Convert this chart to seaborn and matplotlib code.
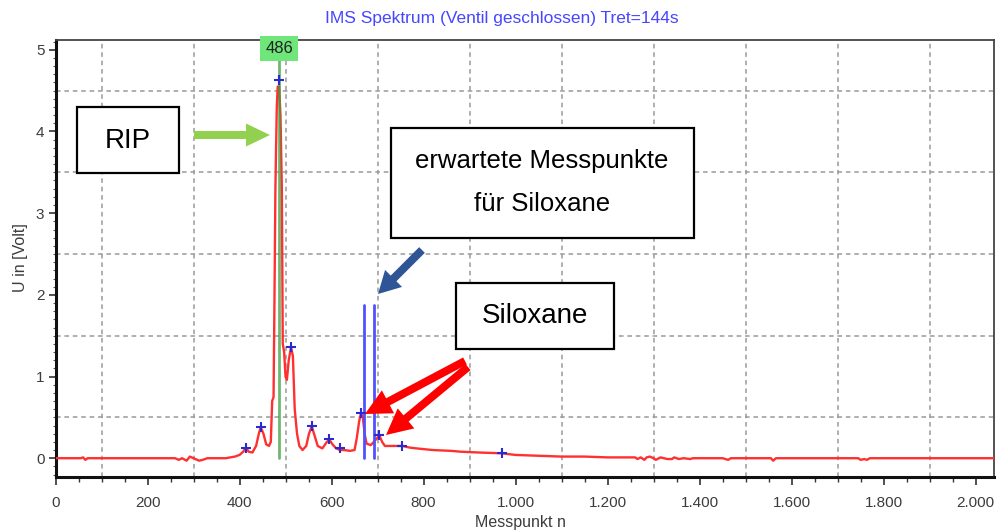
import numpy as np
import pandas as pd
import matplotlib
matplotlib.use("Agg")
import matplotlib.pyplot as plt
import seaborn as sns
from matplotlib.patches import Rectangle, Polygon
from matplotlib.transforms import IdentityTransform
from matplotlib.ticker import FuncFormatter, MultipleLocator

# ---------------- data ----------------
messpunkt = [0, 55, 60, 65, 70, 260, 268, 275, 285, 292, 300, 312, 320, 330, 370,
             390, 400, 408, 414, 420, 428, 436, 442, 446, 452, 458, 464, 468, 471,
             474, 476, 478, 481, 483, 486, 489, 492, 494, 497, 500, 503, 507, 512,
             516, 520, 525, 530, 537, 545, 551, 557, 563, 570, 580, 590, 595, 602,
             610, 619, 628, 640, 650, 655, 660, 664, 668, 672, 676, 685, 692, 698,
             704, 710, 716, 735, 754, 770, 785, 820, 860, 880, 920, 970, 1000, 1050,
             1100, 1150, 1200, 1260, 1265, 1272, 1280, 1285, 1292, 1300, 1305, 1315,
             1330, 1340, 1345, 1355, 1365, 1380, 1385, 1450, 1462, 1468, 1475, 1555,
             1560, 1566, 1745, 1750, 1758, 1764, 1770, 2040]
spannung = [0.0, 0.0, 0.01, -0.02, 0.0, 0.0, -0.02, 0.0, -0.03, 0.02, 0.0, -0.03, -0.02,
            0.0, 0.0, 0.02, 0.04, 0.08, 0.13, 0.08, 0.07, 0.15, 0.30, 0.38, 0.30, 0.17,
            0.15, 0.20, 0.70, 0.75, 1.97, 3.30, 4.30, 4.55, 4.55, 4.20, 3.30, 1.40,
            1.30, 1.00, 0.96, 1.20, 1.36, 1.25, 0.60, 0.30, 0.15, 0.10, 0.15, 0.30,
            0.39, 0.28, 0.15, 0.12, 0.20, 0.23, 0.17, 0.12, 0.10, 0.10, 0.09, 0.10,
            0.25, 0.45, 0.55, 0.50, 0.30, 0.18, 0.16, 0.20, 0.24, 0.28, 0.20, 0.15,
            0.15, 0.15, 0.13, 0.12, 0.10, 0.09, 0.08, 0.07, 0.06, 0.04, 0.03, 0.02,
            0.02, 0.01, 0.01, -0.01, 0.01, -0.02, 0.01, 0.02, 0.0, -0.02, 0.01, -0.01,
            -0.01, 0.01, -0.01, 0.0, -0.01, 0.0, 0.0, -0.02, 0.0, 0.0, 0.0,
            -0.03, 0.0, 0.0, -0.02, -0.01, -0.02, 0.0, 0.0]

peak_n = [414, 446, 486, 512, 557, 595, 619, 665, 704, 754, 971]
peak_u = [0.13, 0.38, 4.63, 1.36, 0.39, 0.23, 0.12, 0.555, 0.28, 0.155, 0.06]

rip_n = 486
rip_top = 4.87
erwartet_n = [671, 692]
erwartet_top = 1.87

x_ticks = [0, 200, 400, 600, 800, 1000, 1200, 1400, 1600, 1800, 2000]
y_ticks = [0, 1, 2, 3, 4, 5]

title = "IMS Spektrum (Ventil geschlossen) Tret=144s"
xlabel = "Messpunkt n"
ylabel = "U in [Volt]"

# ---------------- figure ----------------
W, H = 998, 532
sns.set_style("white")
plt.rcParams["font.family"] = ["Liberation Sans", "DejaVu Sans"]

fig = plt.figure(figsize=(W / 100, H / 100), dpi=100)
ax = fig.add_axes([55.5 / W, 55 / H, (994 - 55.5) / W, (477 - 40) / H])
ax.set_xlim(0, 2040)
ax.set_ylim(-0.23, 5.12)

# grid (offset from the tick labels as in the reference)
for gx in np.arange(100, 2040, 200):
    ax.axvline(gx, color="#9a9a9a", lw=1.1, ls=(0, (3, 2.5)), zorder=0)
for gy in np.arange(0.5, 5.0, 1.0):
    ax.axhline(gy, color="#9a9a9a", lw=1.1, ls=(0, (3, 2.5)), zorder=0)

df = pd.DataFrame({"n": messpunkt, "u": spannung})
sns.lineplot(data=df, x="n", y="u", ax=ax, color="#ff3030", lw=1.7,
             estimator=None, sort=False, zorder=3)

# expected siloxane positions (blue) and RIP marker (green)
for en in erwartet_n:
    ax.plot([en, en], [0, erwartet_top], color="#5050ff", lw=2.0, zorder=4)
ax.plot([rip_n, rip_n], [0, rip_top], color="#3f9f3f", lw=2.0, alpha=0.75, zorder=4)

pk = pd.DataFrame({"n": peak_n, "u": peak_u})
sns.scatterplot(data=pk, x="n", y="u", ax=ax, marker="+", color="#2a2ad0",
                s=45, linewidth=1.5, zorder=5)

ax.text(rip_n, 5.01, str(rip_n), ha="center", va="center", fontsize=12,
        color="#222222", zorder=6,
        bbox=dict(boxstyle="square,pad=0.3", fc="#6ee67a", ec="none"))

# axes styling
ax.set_xticks(x_ticks)
ax.set_yticks(y_ticks)
ax.xaxis.set_minor_locator(MultipleLocator(50))
ax.yaxis.set_minor_locator(MultipleLocator(0.1))
ax.xaxis.set_major_formatter(FuncFormatter(lambda v, p: f"{int(v):,}".replace(",", ".")))
ax.tick_params(axis="x", which="major", direction="out", length=6, width=1.2,
               pad=8, labelsize=11, labelcolor="#3c3c3c", color="#333333", bottom=True)
ax.tick_params(axis="x", which="minor", direction="out", length=3.5, width=1.0,
               color="#333333", bottom=True)
ax.tick_params(axis="y", which="major", direction="out", length=5, width=1.2,
               pad=3, labelsize=11, labelcolor="#3c3c3c", color="#333333", left=True)
ax.tick_params(axis="y", which="minor", direction="out", length=2, width=0.8,
               color="#555555", left=True)
ax.set_xlabel("")
ax.set_ylabel("")
for side in ["left", "bottom"]:
    ax.spines[side].set_linewidth(2.2)
    ax.spines[side].set_color("#111111")
for side in ["top", "right"]:
    ax.spines[side].set_linewidth(1.3)
    ax.spines[side].set_color("#444444")

fig.text(502 / W, 1 - 19 / H, title, ha="center", va="center", fontsize=12.5,
         color="#4646ff")
fig.text(520 / W, 1 - 522 / H, xlabel, ha="center", va="center", fontsize=11.5,
         color="#3c3c3c")
fig.text(20 / W, 1 - 258 / H, ylabel, ha="center", va="center", fontsize=11.5,
         color="#3c3c3c", rotation=90)

# ---------------- annotation overlays (pixel coordinates of the reference) ----------------
def P(x, y):
    return (x, H - y)

def box(x0, y0, x1, y1):
    r = Rectangle(P(x0, y1), x1 - x0, y1 - y0, transform=IdentityTransform(),
                  fc="white", ec="black", lw=1.6, zorder=10)
    fig.add_artist(r)

def arrow(x0, y0, x1, y1, w, hw, hl, color):
    a = np.array(P(x0, y0), float)
    b = np.array(P(x1, y1), float)
    d = b - a
    L = np.hypot(*d)
    u = d / L
    nrm = np.array([-u[1], u[0]])
    base = b - u * hl
    pts = [a + nrm * w / 2, base + nrm * w / 2, base + nrm * hw / 2, b,
           base - nrm * hw / 2, base - nrm * w / 2, a - nrm * w / 2]
    fig.add_artist(Polygon(pts, closed=True, transform=IdentityTransform(),
                           fc=color, ec="none", zorder=11))

box(77, 107, 179, 173)
fig.text(128 / W, 1 - 141 / H, "RIP", ha="center", va="center", fontsize=20,
         color="black", zorder=12)
arrow(194, 135, 270, 135, 8, 23, 24, "#92d050")

box(391, 128, 694, 238)
fig.text(542 / W, 1 - 161 / H, "erwartete Messpunkte", ha="center", va="center",
         fontsize=18.5, color="black", zorder=12)
fig.text(542 / W, 1 - 204 / H, "für Siloxane", ha="center", va="center",
         fontsize=18.5, color="black", zorder=12)
arrow(422, 250, 378, 294, 8, 24, 22, "#2f5597")

box(456, 283, 614, 349)
fig.text(535 / W, 1 - 316 / H, "Siloxane", ha="center", va="center", fontsize=20,
         color="black", zorder=12)
arrow(465, 361, 365, 414, 8, 26, 26, "#ff0000")
arrow(468, 367, 386, 435, 8, 26, 26, "#ff0000")

fig.savefig("out.png", dpi=100)
